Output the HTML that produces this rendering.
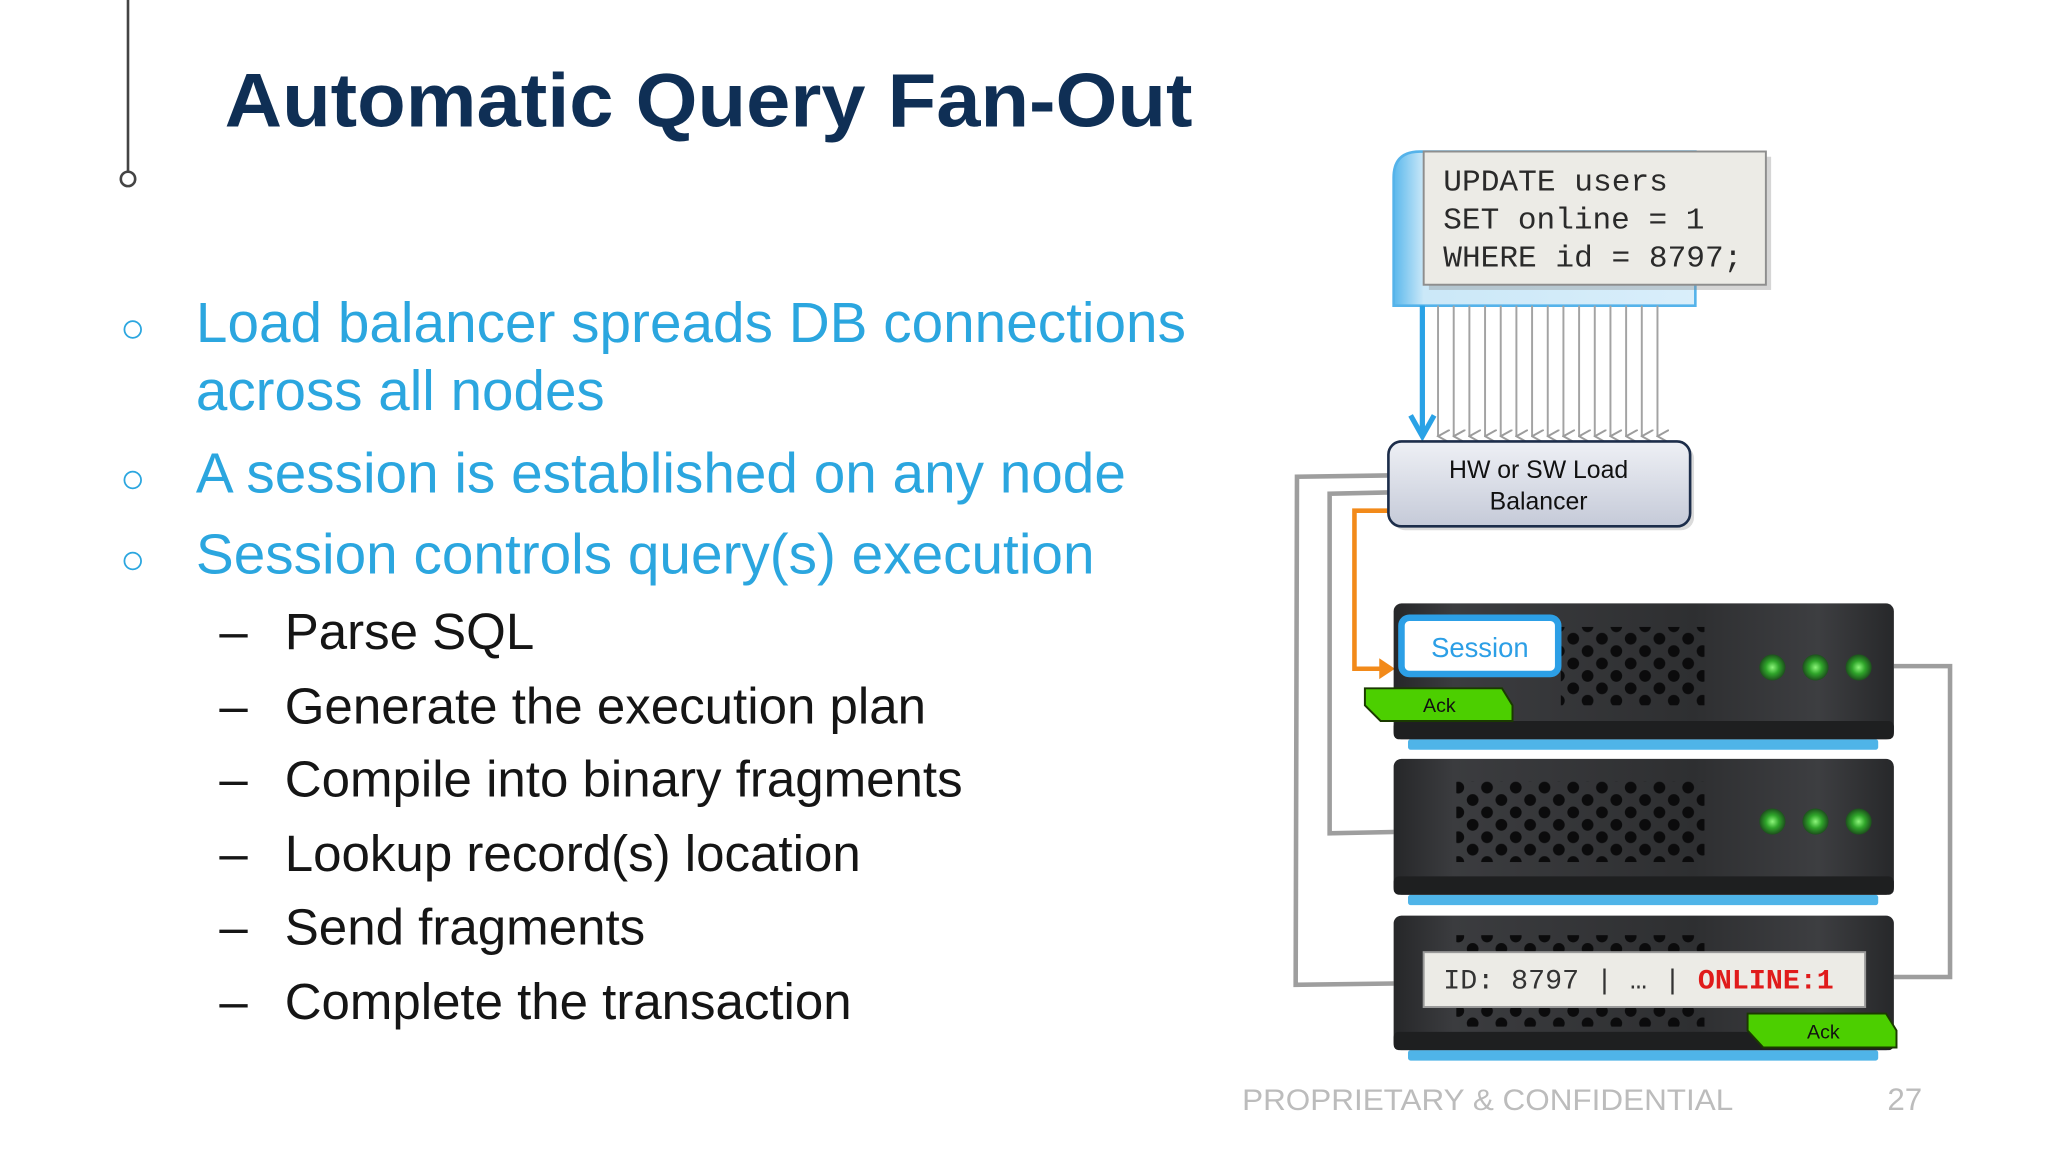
<!DOCTYPE html>
<html><head><meta charset="utf-8"><style>
html,body{margin:0;padding:0;background:#fff;}
svg{display:block;}
</style></head><body>
<svg width="2048" height="1152" viewBox="0 0 1568 882" xmlns="http://www.w3.org/2000/svg" font-family="Liberation Sans, sans-serif">
<defs>
  <pattern id="grill" x="0" y="0" width="22" height="19" patternUnits="userSpaceOnUse">
    <circle cx="5.5" cy="4.5" r="4.5" fill="#0b0b0c"/>
    <circle cx="16.5" cy="14" r="4.5" fill="#0b0b0c"/>
  </pattern>
  <linearGradient id="srv" x1="0" y1="0" x2="1" y2="0">
    <stop offset="0" stop-color="#262729"/>
    <stop offset="0.12" stop-color="#3b3c3f"/>
    <stop offset="0.6" stop-color="#2e2f31"/>
    <stop offset="0.85" stop-color="#3d3e41"/>
    <stop offset="1" stop-color="#27282a"/>
  </linearGradient>
  <linearGradient id="lb" x1="0" y1="0" x2="0" y2="1">
    <stop offset="0" stop-color="#eef0f5"/>
    <stop offset="1" stop-color="#c5cad8"/>
  </linearGradient>
  <linearGradient id="bluep" x1="0" y1="0" x2="1" y2="0">
    <stop offset="0" stop-color="#5ab8ec"/>
    <stop offset="0.1" stop-color="#cbe8f8"/>
    <stop offset="1" stop-color="#d9eefa"/>
  </linearGradient>
  <radialGradient id="led">
    <stop offset="0" stop-color="#8cf57a"/>
    <stop offset="0.5" stop-color="#2fa52a"/>
    <stop offset="1" stop-color="#1d4f1d"/>
  </radialGradient>
  <marker id="ah" markerWidth="10" markerHeight="10" refX="5" refY="9" orient="auto" markerUnits="userSpaceOnUse">
    <path d="M0,0 L5,9 L10,0" fill="none" stroke="#9c9c9c" stroke-width="1.5"/>
  </marker>
</defs>

<rect x="0" y="0" width="1568" height="882" fill="#fff"/>

<line x1="98" y1="0" x2="98" y2="131" stroke="#444" stroke-width="2"/>
<circle cx="98" cy="137" r="5.5" fill="#fff" stroke="#444" stroke-width="2"/>

<text x="172" y="97" font-size="58" font-weight="bold" fill="#0f2f55" textLength="741" lengthAdjust="spacingAndGlyphs">Automatic Query Fan-Out</text>

<g fill="#2ba6df" font-size="43">
  <text x="92" y="262" font-size="32">○</text>
  <text x="150" y="262" textLength="758" lengthAdjust="spacingAndGlyphs">Load balancer spreads DB connections</text>
  <text x="150" y="314" textLength="313" lengthAdjust="spacingAndGlyphs">across all nodes</text>
  <text x="92" y="377" font-size="32">○</text>
  <text x="150" y="377" textLength="712" lengthAdjust="spacingAndGlyphs">A session is established on any node</text>
  <text x="92" y="439" font-size="32">○</text>
  <text x="150" y="439" textLength="688" lengthAdjust="spacingAndGlyphs">Session controls query(s) execution</text>
</g>
<g fill="#151515" font-size="39">
  <text x="168" y="497">–</text><text x="218" y="497" textLength="191" lengthAdjust="spacingAndGlyphs">Parse SQL</text>
  <text x="168" y="554">–</text><text x="218" y="554" textLength="491" lengthAdjust="spacingAndGlyphs">Generate the execution plan</text>
  <text x="168" y="610">–</text><text x="218" y="610" textLength="519" lengthAdjust="spacingAndGlyphs">Compile into binary fragments</text>
  <text x="168" y="667">–</text><text x="218" y="667" textLength="441" lengthAdjust="spacingAndGlyphs">Lookup record(s) location</text>
  <text x="168" y="723">–</text><text x="218" y="723" textLength="276" lengthAdjust="spacingAndGlyphs">Send fragments</text>
  <text x="168" y="780">–</text><text x="218" y="780" textLength="434" lengthAdjust="spacingAndGlyphs">Complete the transaction</text>
</g>

<text x="951" y="850" font-size="23" fill="#bcbcbc" textLength="376" lengthAdjust="spacingAndGlyphs">PROPRIETARY &amp; CONFIDENTIAL</text>
<text x="1445" y="850" font-size="24" fill="#bcbcbc">27</text>

<polyline points="1063,364 993,365 992,754 1067,753" fill="none" stroke="#9e9e9e" stroke-width="3.5"/>
<polyline points="1063,377 1018,378 1018,638 1067,637" fill="none" stroke="#9e9e9e" stroke-width="3.5"/>
<polyline points="1450,510 1493,510 1493,748 1450,748" fill="none" stroke="#9e9e9e" stroke-width="3.5"/>
<polyline points="1063,391 1037,391 1037,512 1058,512" fill="none" stroke="#f28a1a" stroke-width="3.5"/>
<path d="M1056,504 L1068,512 L1056,520 Z" fill="#f28a1a"/>

<path d="M1087,116 L1298,116 L1298,234 L1067,234 L1067,136 Q1067,116 1087,116 Z" fill="url(#bluep)" stroke="#55b3ea" stroke-width="2"/>
<rect x="1094" y="120" width="262" height="102" fill="#888" opacity="0.35"/>
<rect x="1090" y="116" width="262" height="102" fill="#ecebe6" stroke="#8e8e8e" stroke-width="1.5"/>
<g font-family="Liberation Mono, monospace" font-size="23.5" fill="#2a2a2a">
  <text x="1105" y="146" textLength="172" lengthAdjust="spacingAndGlyphs">UPDATE users</text>
  <text x="1105" y="175" textLength="200" lengthAdjust="spacingAndGlyphs">SET online = 1</text>
  <text x="1105" y="204" textLength="229" lengthAdjust="spacingAndGlyphs">WHERE id = 8797;</text>
</g>

<g stroke="#a3a3a3" stroke-width="1.5" marker-end="url(#ah)">
  <line x1="1101" y1="234" x2="1101" y2="334"/>
  <line x1="1113" y1="234" x2="1113" y2="334"/>
  <line x1="1125" y1="234" x2="1125" y2="334"/>
  <line x1="1137" y1="234" x2="1137" y2="334"/>
  <line x1="1149" y1="234" x2="1149" y2="334"/>
  <line x1="1161" y1="234" x2="1161" y2="334"/>
  <line x1="1173" y1="234" x2="1173" y2="334"/>
  <line x1="1185" y1="234" x2="1185" y2="334"/>
  <line x1="1197" y1="234" x2="1197" y2="334"/>
  <line x1="1209" y1="234" x2="1209" y2="334"/>
  <line x1="1221" y1="234" x2="1221" y2="334"/>
  <line x1="1233" y1="234" x2="1233" y2="334"/>
  <line x1="1245" y1="234" x2="1245" y2="334"/>
  <line x1="1257" y1="234" x2="1257" y2="334"/>
  <line x1="1269" y1="234" x2="1269" y2="334"/>
</g>
<line x1="1089" y1="234" x2="1089" y2="333" stroke="#2aa2e6" stroke-width="4"/>
<path d="M1080,318 L1089,334 L1098,318" fill="none" stroke="#2aa2e6" stroke-width="4"/>

<rect x="1066" y="341" width="231" height="65" rx="10" fill="#999" opacity="0.35"/>
<rect x="1063" y="338" width="231" height="65" rx="10" fill="url(#lb)" stroke="#1c2d4a" stroke-width="2"/>
<text x="1178" y="366" font-size="19" text-anchor="middle" fill="#111">HW or SW Load</text>
<text x="1178" y="390" font-size="19" text-anchor="middle" fill="#111">Balancer</text>

<g>
  <rect x="1078" y="566" width="360" height="8" rx="2" fill="#4fb4e8"/>
  <rect x="1067" y="462" width="383" height="104" rx="6" fill="url(#srv)"/>
  <rect x="1067" y="552" width="383" height="14" rx="4" fill="#1e1f20"/>
  <rect x="1195" y="480" width="110" height="60" fill="url(#grill)"/>

  <rect x="1078" y="685" width="360" height="8" rx="2" fill="#4fb4e8"/>
  <rect x="1067" y="581" width="383" height="104" rx="6" fill="url(#srv)"/>
  <rect x="1067" y="671" width="383" height="14" rx="4" fill="#1e1f20"/>
  <rect x="1115" y="598" width="190" height="62" fill="url(#grill)"/>

  <rect x="1078" y="804" width="360" height="8" rx="2" fill="#4fb4e8"/>
  <rect x="1067" y="701" width="383" height="103" rx="6" fill="url(#srv)"/>
  <rect x="1067" y="790" width="383" height="14" rx="4" fill="#1e1f20"/>
  <rect x="1115" y="716" width="190" height="70" fill="url(#grill)"/>
</g>
<g>
  <circle cx="1357" cy="511" r="10" fill="url(#led)"/>
  <circle cx="1390" cy="511" r="10" fill="url(#led)"/>
  <circle cx="1423" cy="511" r="10" fill="url(#led)"/>
  <circle cx="1357" cy="629" r="10" fill="url(#led)"/>
  <circle cx="1390" cy="629" r="10" fill="url(#led)"/>
  <circle cx="1423" cy="629" r="10" fill="url(#led)"/>
</g>

<rect x="1073" y="473" width="120" height="43" rx="6" fill="#fff" stroke="#2c9fe6" stroke-width="5"/>
<text x="1133" y="503" font-size="21" text-anchor="middle" fill="#2c9fe6">Session</text>

<path d="M1045,527 L1150,527 L1158,540 L1158,552 L1057,552 L1045,540 Z" fill="#4ccf00" stroke="#1a3a00" stroke-width="1.5"/>
<text x="1102" y="545" font-size="15" text-anchor="middle" fill="#111">Ack</text>

<rect x="1090" y="729" width="338" height="42" fill="#ecebe6" stroke="#999" stroke-width="1.5"/>
<text x="1105" y="757" font-family="Liberation Mono, monospace" font-size="21.5" fill="#333" xml:space="preserve" textLength="299" lengthAdjust="spacingAndGlyphs">ID: 8797 | … | <tspan fill="#e01b1b" font-weight="bold">ONLINE:1</tspan></text>

<path d="M1338,776 L1444,776 L1452,789 L1452,802 L1350,802 L1338,789 Z" fill="#4ccf00" stroke="#1a3a00" stroke-width="1.5"/>
<text x="1396" y="795" font-size="15" text-anchor="middle" fill="#111">Ack</text>
</svg>
</body></html>
